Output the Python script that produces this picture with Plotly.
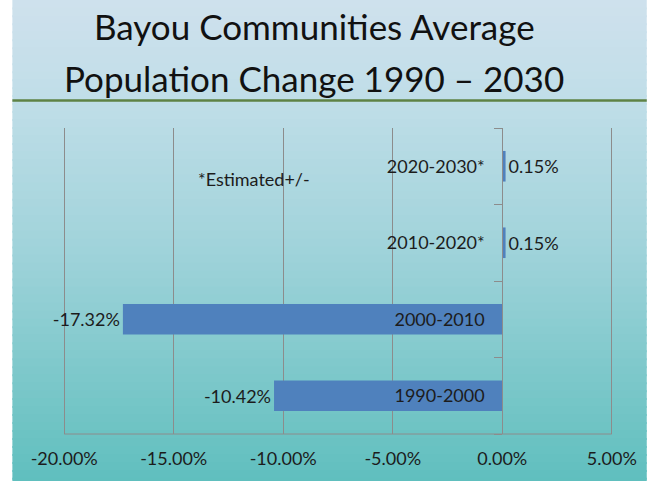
import plotly.graph_objects as go

categories = ["1990-2000", "2000-2010", "2010-2020*", "2020-2030*"]
values = [-0.1042, -0.1732, 0.0015, 0.0015]
value_labels = ["-10.42%", "-17.32%", "0.15%", "0.15%"]
x_ticks = [-0.20, -0.15, -0.10, -0.05, 0.0, 0.05]
x_tick_labels = ["-20.00%", "-15.00%", "-10.00%", "-5.00%", "0.00%", "5.00%"]
title_lines = ["Bayou Communities Average", "Population Change 1990 \u2013 2030"]
note_text = "*Estimated+/-"

FONT = "Lato"
TXT = "#1c1c1c"
FS = 18
W, H = 649, 481
X_RANGE = [-0.201, 0.051]
L, R, T, B = 62, 31, 128, 46
pw, ph = W - L - R, H - T - B

def px_to_paper_x(px):
    return (px - L) / pw

def px_to_paper_y(py):
    return (H - B - py) / ph

fig = go.Figure()
fig.add_trace(go.Bar(
    y=categories, x=values, orientation="h",
    marker=dict(color="#4f81bd", line=dict(width=0)),
    text=value_labels, texttemplate="%{text}", textposition="outside",
    textfont=dict(family=FONT, size=FS, color=TXT),
    cliponaxis=False, hoverinfo="skip",
))

# gradient background
stops = [(0, (207, 225, 237)), (100, (192, 222, 232)), (250, (160, 211, 218)), (481, (96, 191, 190))]
def col(y):
    for (y0, c0), (y1, c1) in zip(stops[:-1], stops[1:]):
        if y0 <= y <= y1:
            t = (y - y0) / (y1 - y0)
            return "rgb(%d,%d,%d)" % tuple(round(a + (b - a) * t) for a, b in zip(c0, c1))
    return "rgb(%d,%d,%d)" % stops[-1][1]

shapes = []
step = 8
for y in range(0, H, step):
    shapes.append(dict(type="rect", xref="paper", yref="paper", layer="below",
                       x0=px_to_paper_x(12), x1=px_to_paper_x(W + 2),
                       y0=px_to_paper_y(y - 1), y1=px_to_paper_y(min(y + step + 1, H + 2)),
                       fillcolor=col(y + step / 2), line=dict(width=0)))
shapes.append(dict(type="line", xref="paper", yref="paper", layer="above",
                   x0=px_to_paper_x(12), x1=px_to_paper_x(W + 2),
                   y0=px_to_paper_y(100.5), y1=px_to_paper_y(100.5),
                   line=dict(color="#5e8245", width=2.5)))

TS = 35
annotations = [
    dict(text=title_lines[0], xref="paper", yref="paper",
         x=px_to_paper_x(316), y=px_to_paper_y(26), xanchor="center", yanchor="middle",
         showarrow=False, font=dict(family=FONT, size=TS, color="#111111")),
    dict(text=title_lines[1], xref="paper", yref="paper",
         x=px_to_paper_x(316), y=px_to_paper_y(78), xanchor="center", yanchor="middle",
         showarrow=False, font=dict(family=FONT, size=TS, color="#111111")),
    dict(text=note_text, xref="paper", yref="paper",
         x=px_to_paper_x(255), y=px_to_paper_y(166),
         showarrow=False, font=dict(family=FONT, size=FS, color=TXT)),
]

zero_pos = (0 - X_RANGE[0]) / (X_RANGE[1] - X_RANGE[0])

fig.update_layout(
    width=W, height=H,
    margin=dict(l=L, r=R, t=T, b=B),
    paper_bgcolor="white", plot_bgcolor="rgba(0,0,0,0)",
    showlegend=False,
    bargap=0.6,
    shapes=shapes,
    annotations=annotations,
    font=dict(family=FONT, color=TXT),
    xaxis=dict(range=X_RANGE, tickvals=x_ticks, ticktext=x_tick_labels,
               showgrid=True, gridcolor="#8c8c8c", gridwidth=1,
               showline=False, zeroline=False, ticks="", ticklabelstandoff=12,
               tickfont=dict(family=FONT, size=FS, color=TXT)),
    yaxis=dict(type="category", anchor="free", position=zero_pos,
               showgrid=False, showline=True, linecolor="#8c8c8c", linewidth=1,
               ticks="outside", ticklen=8, tickcolor="#8c8c8c", tickson="boundaries",
               ticklabelstandoff=14,
               tickfont=dict(family=FONT, size=FS, color=TXT)),
)
# bottom axis line spanning the tick range (-20% to 5%)
fig.add_shape(type="line", xref="x", yref="paper", layer="above",
              x0=x_ticks[0], x1=x_ticks[-1], y0=0, y1=0,
              line=dict(color="#8c8c8c", width=1))

fig.write_html("out.html", config={"displayModeBar": False},
               post_script="document.body.style.margin='0';")
